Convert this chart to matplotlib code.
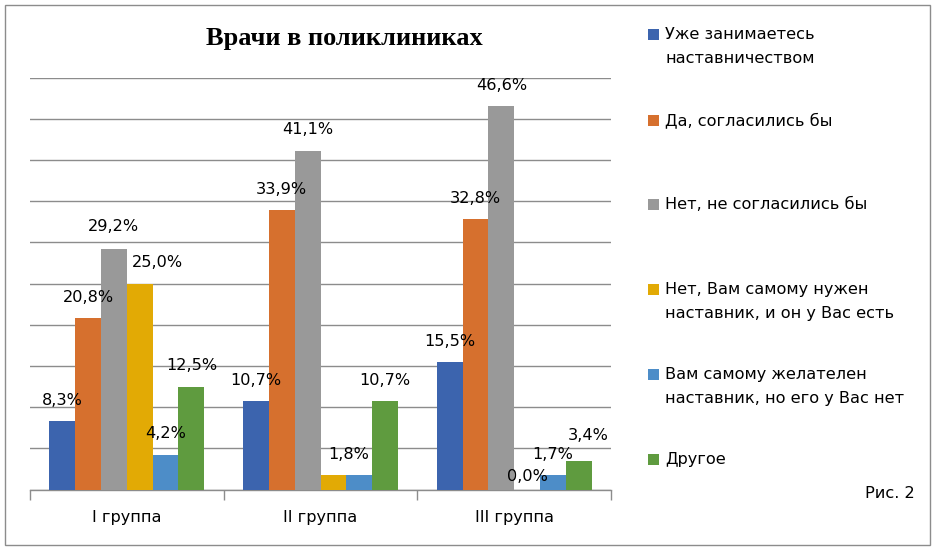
import matplotlib
matplotlib.use("Agg")
import matplotlib.pyplot as plt
from matplotlib.patches import Rectangle
import numpy as np

# ---- data ----
categories = ["I группа", "II группа", "III группа"]
series_names = [
    "Уже занимаетесь\nнаставничеством",
    "Да, согласились бы",
    "Нет, не согласились бы",
    "Нет, Вам самому нужен\nнаставник, и он у Вас есть",
    "Вам самому желателен\nнаставник, но его у Вас нет",
    "Другое",
]
already = [8.3, 10.7, 15.5]
yes_agree = [20.8, 33.9, 32.8]
no_agree = [29.2, 41.1, 46.6]
need_have = [25.0, 1.8, 0.0]
want_nothave = [4.2, 1.8, 1.7]
other = [12.5, 10.7, 3.4]
values = [already, yes_agree, no_agree, need_have, want_nothave, other]
title = "Врачи в поликлиниках"
fig_note = "Рис. 2"

# ---- style ----
colors = ["#3C64AE", "#D6702E", "#999999", "#E2AA05", "#4D8DC8", "#5F9B3F"]
# label nudges in pixels (dx, dy above bar top); None = label hidden
label_nudge = [
    [(0, 20.5), (0, 20.5), (0, 20.5)],
    [(0, 20.5), (0, 20.5), (0, 20.5)],
    [(0, 22.5), (0, 21), (0, 20.5)],
    [(18, 21), (15.5, 20), (0, 13)],
    [(0, 21), None, (0, 21)],
    [(0, 20.5), (0, 20.5), (9, 25.5)],
]

W, H = 938, 553
DPI = 100
fig = plt.figure(figsize=(W / DPI, H / DPI), dpi=DPI)
fig.patch.set_facecolor("white")

font = ["DejaVu Sans"]
FS = 11.6
PX = 72.0 / DPI  # points per pixel

# frame
fig.add_artist(Rectangle((5 / W, 1 - 545 / H), 925 / W, 540 / H, transform=fig.transFigure,
                         fill=False, edgecolor="#8C8C8C", linewidth=1.0))

left, right, top, bottom = 30, 611, 77.5, 489.5
ax = fig.add_axes([left / W, 1 - bottom / H, (right - left) / W, (bottom - top) / H])

n = len(values)
width = 0.8 / n
x = np.arange(len(categories))
for i, (vals, col) in enumerate(zip(values, colors)):
    pos = x + (i - (n - 1) / 2) * width
    ax.bar(pos, vals, width=width, color=col, zorder=3, linewidth=0)
    for j, (p, v) in enumerate(zip(pos, vals)):
        nd = label_nudge[i][j]
        if nd is None:
            continue
        ax.annotate(f"{v:.1f}%".replace(".", ","), (p, v),
                    xytext=(nd[0] * PX, nd[1] * PX), textcoords="offset points",
                    ha="center", va="center", fontsize=FS, family=font,
                    color="#000000", zorder=5)

ax.set_xlim(-0.5, len(categories) - 0.5)
ax.set_ylim(0, 50)
ax.set_yticks(np.arange(0, 51, 5))
ax.yaxis.grid(True, color="#8C8C8C", linewidth=1.0, zorder=0)
ax.tick_params(axis="y", left=False, labelleft=False)
ax.set_xticks(x)
ax.set_xticklabels(categories, fontsize=FS, family=font)
ax.tick_params(axis="x", which="major", length=0, pad=15)
ax.set_xticks(np.arange(-0.5, len(categories), 1.0), minor=True)
ax.tick_params(axis="x", which="minor", length=7, color="#8C8C8C", width=1.0)
for s in ["left", "right", "top"]:
    ax.spines[s].set_visible(False)
ax.spines["bottom"].set_color("#8C8C8C")
ax.spines["bottom"].set_linewidth(1.0)
ax.set_facecolor("white")

# title
fig.text(344 / W, 1 - 38 / H, title, ha="center", va="center", fontsize=19,
         fontweight="bold", family=["Liberation Serif", "DejaVu Serif"])

# legend (manual, Excel-style right side)
entry_y = [34.3, 120, 204, 289.3, 374, 459.3]
line_gap = 24.5
sq = 11
for name, col, yc in zip(series_names, colors, entry_y):
    fig.add_artist(Rectangle((648 / W, 1 - (yc + sq / 2) / H), sq / W, sq / H,
                             transform=fig.transFigure, facecolor=col, edgecolor="none"))
    for k, line in enumerate(name.split("\n")):
        fig.text(665 / W, 1 - (yc + k * line_gap) / H, line, ha="left", va="center",
                 fontsize=FS, family=font, color="#000000")

fig.text(915 / W, 1 - 494 / H, fig_note, ha="right", va="center", fontsize=FS,
         family=font, color="#000000")

fig.savefig("out.png", dpi=DPI)
